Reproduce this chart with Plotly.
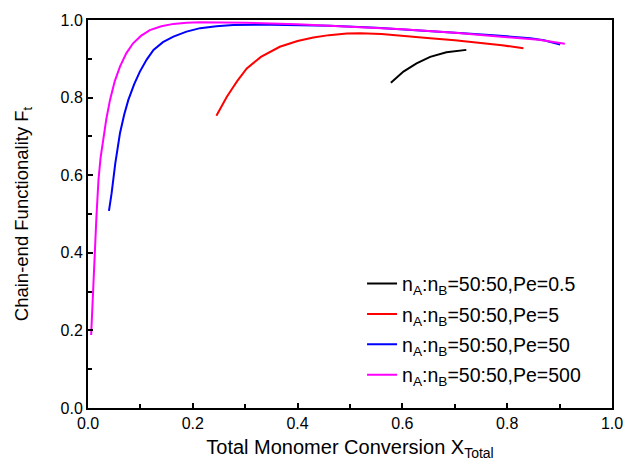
import plotly.graph_objects as go

# Pe = 0.5
x_pe05 = [0.578, 0.602, 0.627, 0.653, 0.684, 0.705, 0.722]
y_pe05 = [0.838, 0.867, 0.888, 0.905, 0.917, 0.921, 0.923]

# Pe = 5
x_pe5 = [0.245, 0.255, 0.265, 0.275, 0.285, 0.303, 0.33, 0.366, 0.40, 0.43, 0.46, 0.494, 0.519,
         0.56, 0.60, 0.653, 0.70, 0.748, 0.79, 0.831]
y_pe5 = [0.753, 0.779, 0.802, 0.823, 0.843, 0.875, 0.905, 0.931, 0.946, 0.955, 0.961, 0.965, 0.966,
         0.964, 0.960, 0.953, 0.948, 0.942, 0.935, 0.927]

# Pe = 50
x_pe50 = [0.040, 0.045, 0.052, 0.061, 0.069, 0.077, 0.088, 0.099, 0.112, 0.125, 0.143, 0.163,
          0.188, 0.214, 0.245, 0.277, 0.35, 0.462, 0.55, 0.63, 0.716, 0.78, 0.844, 0.87, 0.901]
y_pe50 = [0.508, 0.553, 0.63, 0.708, 0.756, 0.794, 0.834, 0.867, 0.898, 0.923, 0.943, 0.957,
          0.970, 0.979, 0.984, 0.987, 0.988, 0.985, 0.980, 0.974, 0.966, 0.960, 0.953, 0.948, 0.937]

# Pe = 500
x_pe500 = [0.006, 0.009, 0.013, 0.016, 0.020, 0.024, 0.029, 0.035, 0.042, 0.051, 0.061, 0.073,
           0.086, 0.101, 0.118, 0.140, 0.163, 0.188, 0.214, 0.30, 0.40, 0.50, 0.60, 0.70, 0.80,
           0.86, 0.91]
y_pe500 = [0.188, 0.30, 0.399, 0.49, 0.588, 0.645, 0.691, 0.745, 0.794, 0.842, 0.880, 0.914,
           0.940, 0.959, 0.974, 0.984, 0.990, 0.993, 0.994, 0.993, 0.989, 0.983, 0.976, 0.967, 0.956,
           0.949, 0.939]

series = [
    ("n<sub>A</sub>:n<sub>B</sub>=50:50,Pe=0.5", x_pe05, y_pe05, "#000000"),
    ("n<sub>A</sub>:n<sub>B</sub>=50:50,Pe=5", x_pe5, y_pe5, "#ff0000"),
    ("n<sub>A</sub>:n<sub>B</sub>=50:50,Pe=50", x_pe50, y_pe50, "#0000ff"),
    ("n<sub>A</sub>:n<sub>B</sub>=50:50,Pe=500", x_pe500, y_pe500, "#ff00ff"),
]

fig = go.Figure()
for i, (name, xs, ys, c) in enumerate(series):
    fig.add_trace(go.Scatter(x=xs, y=ys, mode="lines", name=name,
                             line=dict(color=c, width=2),
                             legendgroup=f"g{i}"))

font_family = "Liberation Sans, Arial, sans-serif"
axis_common = dict(
    showgrid=False, zeroline=False, showline=True, linecolor="black", linewidth=2,
    mirror=True, ticks="inside", ticklen=5, tickwidth=1.5, tickcolor="black",
    tickfont=dict(family=font_family, size=16, color="black"),
    minor=dict(ticks="inside", ticklen=4, tickwidth=1.5, tickcolor="black", dtick=0.1),
    automargin=False, ticklabeloverflow="allow",
)

fig.update_layout(
    width=623, height=461,
    margin=dict(l=88, r=11, t=20, b=53),
    paper_bgcolor="white", plot_bgcolor="white",
    font=dict(family=font_family, color="black"),
    showlegend=True,
    legend=dict(x=0.523, y=0.37, xanchor="left", yanchor="top",
                bgcolor="rgba(0,0,0,0)", tracegroupgap=2,
                font=dict(family=font_family, size=19.5, color="black")),
)
fig.update_xaxes(range=[0, 1], dtick=0.2, tick0=0, tickformat=".1f",
                 title=dict(text="Total Monomer Conversion X<sub>Total</sub>",
                            font=dict(family=font_family, size=20), standoff=12),
                 **axis_common)
fig.update_yaxes(range=[0, 1], dtick=0.2, tick0=0, tickformat=".1f",
                 title=dict(text="Chain-end Functionality F<sub>t</sub>",
                            font=dict(family=font_family, size=18.5), standoff=27),
                 **axis_common)

fig.write_html("out.html", config={"displayModeBar": False},
               post_script="document.body.style.margin='0';document.body.style.overflow='hidden';")
